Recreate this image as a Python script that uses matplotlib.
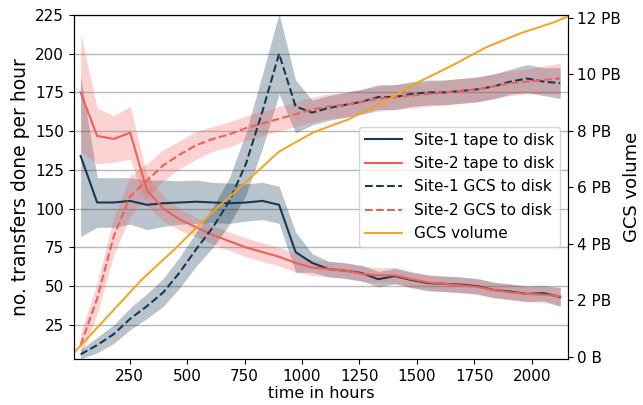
import matplotlib
matplotlib.use("Agg")
import matplotlib.pyplot as plt
from matplotlib.ticker import FuncFormatter
import numpy as np

# transfer rates, one point every 72 hours
hours = [36, 108, 180, 252, 324, 396, 468, 540, 612, 684, 756, 828, 900, 972, 1044,
         1116, 1188, 1260, 1332, 1404, 1476, 1548, 1620, 1692, 1764, 1836, 1908, 1980, 2052, 2124]

site1_tape = [134, 104, 104, 105, 102.5, 103.5, 104, 104.5, 104, 103.5, 104, 105, 102.5, 72, 65,
              61, 60, 58.5, 54.5, 56.5, 54, 52, 51.5, 51, 50, 47.5, 46.5, 45, 45.5, 43]
site1_tape_sd = [52, 16, 16, 15, 16, 15, 14, 14, 13, 13, 12, 12, 12, 13, 6,
                 5, 5, 5, 5, 5, 5, 5, 5, 5, 5, 5, 5, 5, 5, 6]

site2_tape = [175, 147, 145, 149, 112, 100, 93, 88, 83, 79, 75, 72, 69, 65, 62,
              61, 60, 58, 57, 57, 54.5, 52.5, 51.5, 50.5, 49.5, 47.5, 46, 45, 44.5, 43.5]
site2_tape_sd = [38, 18, 15, 17, 10, 8, 7, 6, 6, 6, 6, 6, 6, 6, 5,
                 5, 5, 5, 5, 5, 5, 5, 5, 5, 5, 5, 5, 5, 5, 6]

site1_gcs = [6, 12, 19, 29, 37, 46, 59, 74, 88, 105, 129, 163, 200, 166, 162,
             165, 167, 169, 172, 172, 174, 175, 175, 176, 177, 179, 182, 184, 182, 181]
site1_gcs_sd = [3, 5, 6, 7, 8, 9, 10, 11, 13, 15, 20, 24, 26, 17, 8,
                8, 8, 8, 8, 8, 8, 8, 8, 8, 8, 8, 8, 9, 9, 10]

site2_gcs = [12, 42, 82, 108, 118, 128, 135, 141, 145, 148, 152, 155, 158, 161, 164,
             166, 167, 169, 171, 172, 173, 174, 175, 176, 177, 179, 181, 182, 183, 184]
site2_gcs_sd = [8, 10, 12, 13, 11, 10, 9, 9, 8, 8, 8, 8, 8, 8, 8,
                8, 8, 8, 8, 8, 8, 8, 8, 8, 8, 8, 8, 8, 9, 10]

# cumulative GCS volume in PB
vol_hours = [7, 150, 300, 450, 600, 750, 900, 1050, 1200, 1350, 1500, 1650, 1800, 1950, 2100, 2157]
vol_pb = [0.15, 1.4, 2.72, 3.85, 5.05, 6.15, 7.27, 7.95, 8.4, 9.0, 9.7, 10.3, 10.95, 11.45, 11.85, 12.05]

navy = "#163a55"
red = "#ef605c"
orange = "#f5a31a"

fig = plt.figure(figsize=(6.43, 4.05), dpi=100)
ax = fig.add_axes([0.115, 0.1136, 0.768, 0.8494])
ax2 = ax.twinx()

t = np.array(hours)

def band(mean, sd, color, alpha):
    mean = np.array(mean)
    sd = np.array(sd)
    ax.fill_between(t, mean - sd, mean + sd, color=color, alpha=alpha, lw=0)

band(site1_tape, site1_tape_sd, navy, 0.3)
band(site2_tape, site2_tape_sd, red, 0.28)
band(site1_gcs, site1_gcs_sd, navy, 0.3)
band(site2_gcs, site2_gcs_sd, red, 0.28)

l1, = ax.plot(t, site1_tape, color=navy, lw=1.5, label="Site-1 tape to disk")
l2, = ax.plot(t, site2_tape, color=red, lw=1.5, label="Site-2 tape to disk")
l3, = ax.plot(t, site1_gcs, color=navy, lw=1.5, ls="--", label="Site-1 GCS to disk")
l4, = ax.plot(t, site2_gcs, color=red, lw=1.5, ls="--", label="Site-2 GCS to disk")
l5, = ax2.plot(vol_hours, vol_pb, color=orange, lw=1.4, label="GCS volume")

ax.set_xlim(7, 2157)
ax.set_ylim(3, 225)
ax.set_yticks(range(25, 226, 25))
ax.set_xticks([250, 500, 750, 1000, 1250, 1500, 1750, 2000])
ax.yaxis.grid(True, color="#b8b8b8", lw=1)
ax.set_axisbelow(True)
ax.tick_params(labelsize=11)

ax2.set_ylim(-0.07, 12.1)
ax2.set_yticks(range(0, 13, 2))
ax2.yaxis.set_major_formatter(FuncFormatter(lambda v, p: "0 B" if v == 0 else f"{v:g} PB"))
ax2.tick_params(labelsize=11)

ax.set_xlabel("time in hours", fontsize=11.5, labelpad=2)
ax.set_ylabel("no. transfers done per hour", fontsize=13.5)
ax2.set_ylabel("GCS volume", fontsize=13, labelpad=1)

ax2.legend(handles=[l1, l2, l3, l4, l5], loc="center right", fontsize=11,
           handlelength=2.4, labelspacing=0.55)

fig.savefig("out.png", dpi=100)
